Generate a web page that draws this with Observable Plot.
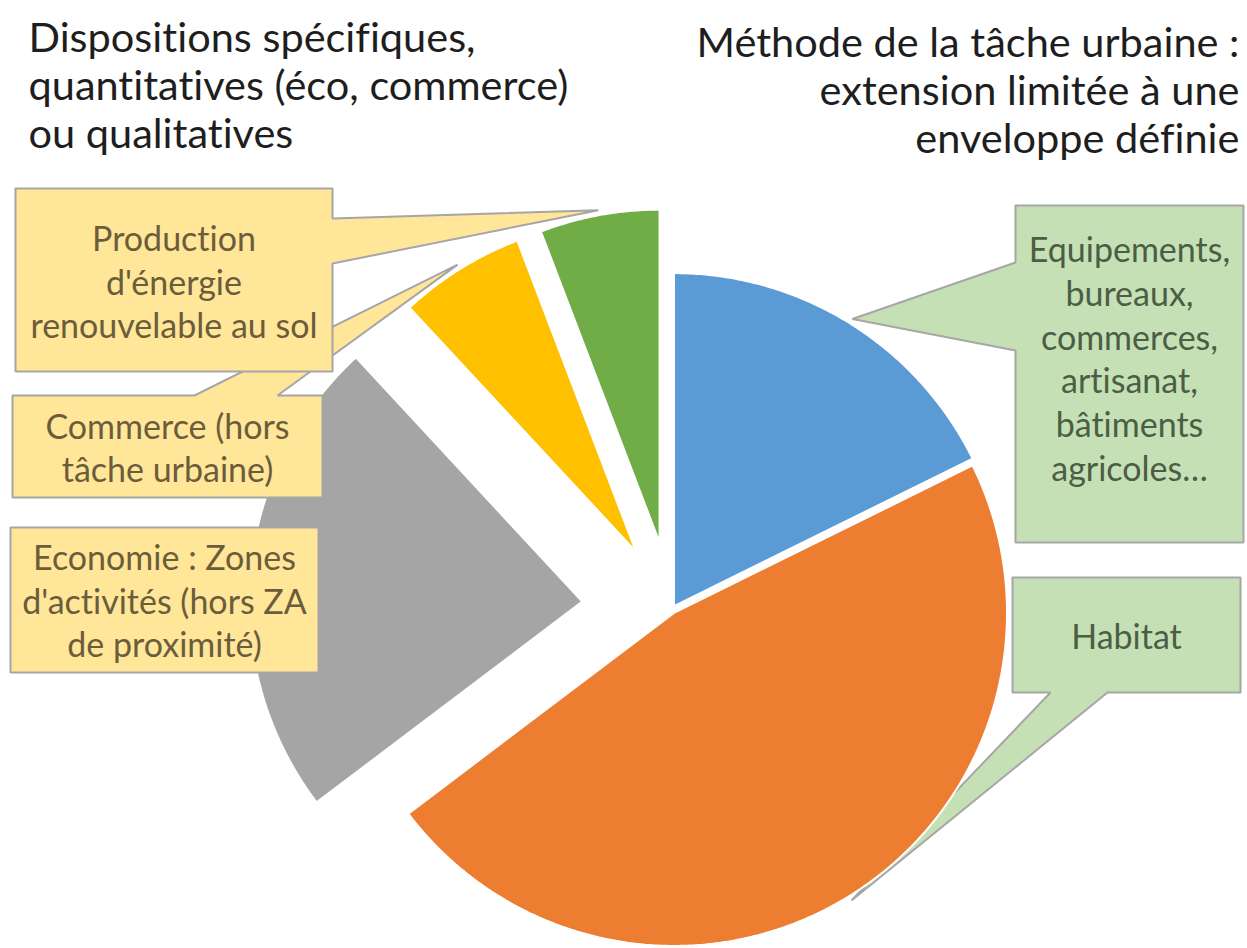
<!DOCTYPE html>
<html><head><meta charset="utf-8">
<script src="https://cdn.jsdelivr.net/npm/d3@7"></script>
<script src="https://cdn.jsdelivr.net/npm/@observablehq/plot@0.6"></script>
<style>body{margin:0;background:#fff;} svg{display:block;} svg text{font-variant-ligatures:none;font-feature-settings:"liga" 0,"clig" 0;}</style>
</head><body><div id="chart"></div>
<script>
// ---- data ----
const categories = [
  "Equipements,\nbureaux,\ncommerces,\nartisanat,\nbâtiments\nagricoles…",
  "Habitat",
  "Economie : Zones\nd'activités (hors ZA\nde proximité)",
  "Commerce (hors\ntâche urbaine)",
  "Production\nd'énergie\nrenouvelable au sol"
];
const values = [17.7, 47.0, 23.4, 6.1, 5.8];
const titleLeft = "Dispositions spécifiques,\nquantitatives (éco, commerce)\nou qualitatives";
const titleRight = "Méthode de la tâche urbaine :\nextension limitée à une\nenveloppe définie";

// ---- styles & layout ----
const palette = ["#5B9BD5", "#ED7D31", "#A5A5A5", "#FFC000", "#70AD47"];
const W = 1247, H = 948;
const pieLayout = {cx: 671.4, cy: 609, r: 333, explode: [4, 4, 90, 68, 68], tipFactor: 1.015};
const callouts = [
  {i: 0, box: [1015, 205, 1243, 542], side: "left", base: [262, 350], textY: 357, fill: "#C5E0B4", ink: "#4b5e45", under: true},
  {i: 1, box: [1012, 577, 1240, 692], side: "bottom", base: [1050, 1107], textY: 634, fill: "#C5E0B4", ink: "#4b5e45", under: true},
  {i: 3, box: [12, 395, 322, 497], side: "top", base: [194, 277], textY: 446, fill: "#FFE699", ink: "#6b5d3b"},
  {i: 4, box: [15, 188, 332, 371], side: "right", base: [218, 263], textY: 280, fill: "#FFE699", ink: "#6b5d3b"},
  {i: 2, box: [10, 527, 318, 672], side: null, textY: 599, fill: "#FFE699", ink: "#6b5d3b"}
];
const boxFont = 34, boxLH = 1.29, titleFont = 41.5, titleLH = 1.16;

// ---- geometry from data ----
const arcs = d3.pie().sort(null).startAngle(0).endAngle(2 * Math.PI)(values);
const slices = arcs.map((a, i) => {
  const mid = (a.startAngle + a.endAngle) / 2;
  const e = pieLayout.explode[i];
  const vx = pieLayout.cx + e * Math.sin(mid), vy = pieLayout.cy - e * Math.cos(mid);
  return {i, cat: categories[i], a0: a.startAngle, a1: a.endAngle, mid, vx, vy};
});
const slicePts = [];
for (const s of slices) {
  slicePts.push({cat: s.cat, x: s.vx, y: s.vy});
  const n = Math.max(2, Math.ceil((s.a1 - s.a0) / (Math.PI / 360)));
  for (let k = 0; k <= n; k++) {
    const a = s.a0 + (s.a1 - s.a0) * k / n;
    slicePts.push({cat: s.cat, x: s.vx + pieLayout.r * Math.sin(a), y: s.vy - pieLayout.r * Math.cos(a)});
  }
  slicePts.push({cat: s.cat, x: s.vx, y: s.vy});
}

function calloutPoly(c) {
  const s = slices[c.i];
  const [x1, y1, x2, y2] = c.box;
  const tr = pieLayout.r * pieLayout.tipFactor;
  const t = [s.vx + tr * Math.sin(s.mid), s.vy - tr * Math.cos(s.mid)];
  let p;
  if (c.side === "right") p = [[x1,y1],[x2,y1],[x2,c.base[0]],t,[x2,c.base[1]],[x2,y2],[x1,y2]];
  else if (c.side === "left") p = [[x1,y1],[x2,y1],[x2,y2],[x1,y2],[x1,c.base[1]],t,[x1,c.base[0]]];
  else if (c.side === "top") p = [[x1,y1],[c.base[0],y1],t,[c.base[1],y1],[x2,y1],[x2,y2],[x1,y2]];
  else if (c.side === "bottom") p = [[x1,y1],[x2,y1],[x2,y2],[c.base[1],y2],t,[c.base[0],y2],[x1,y2]];
  else p = [[x1,y1],[x2,y1],[x2,y2],[x1,y2]];
  p.push(p[0]);
  return p.map(([x, y]) => ({x, y}));
}

function calloutMarks(c) {
  return [
    Plot.line(calloutPoly(c), {x: "x", y: "y", fill: c.fill, stroke: "#a6a6a6", strokeWidth: 2, curve: "linear", strokeLinejoin: "miter"}),
    Plot.text([categories[c.i]], {x: () => (c.box[0] + c.box[2]) / 2, y: () => c.textY, text: d => d,
      fill: c.ink, fontSize: boxFont, lineHeight: boxLH, lineAnchor: "middle", textAnchor: "middle", fontFamily: "Lato"})
  ];
}

const chart = Plot.plot({
  width: W, height: H, margin: 0,
  style: {fontFamily: "Lato", background: "#fff"},
  x: {domain: [0, W], range: [0, W], axis: null},
  y: {domain: [0, H], range: [0, H], axis: null},
  color: {domain: categories, range: palette},
  marks: [
    ...callouts.filter(c => c.under).map(c => calloutMarks(c)[0]),
    Plot.line(slicePts, {x: "x", y: "y", z: "cat", fill: "cat", stroke: "white", strokeWidth: 2, curve: "linear", strokeLinejoin: "miter"}),
    ...callouts.filter(c => c.under).map(c => calloutMarks(c)[1]),
    ...callouts.filter(c => !c.under).flatMap(calloutMarks),
    Plot.text([titleLeft], {x: () => 28, y: () => 17, text: d => d, textAnchor: "start", lineAnchor: "top",
      fontSize: titleFont, lineHeight: titleLH, fill: "#1e1e1e", fontFamily: "Lato"}),
    Plot.text([titleRight], {x: () => 1239, y: () => 22, text: d => d, textAnchor: "end", lineAnchor: "top",
      fontSize: titleFont, lineHeight: titleLH, fill: "#1e1e1e", fontFamily: "Lato"})
  ]
});
document.getElementById("chart").append(chart);
</script>
</body></html>
